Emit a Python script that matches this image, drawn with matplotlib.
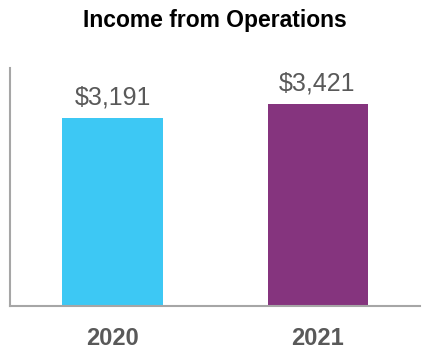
import matplotlib

matplotlib.use("Agg")

import matplotlib.pyplot as plt

years = ["2020", "2021"]
income = [3191, 3421]
value_labels = ["$3,191", "$3,421"]
bar_colors = ["#3DC8F4", "#85347E"]

TEXT_GRAY = "#595959"
SPINE_GRAY = "#A6A6A6"

plt.rcParams["font.family"] = ["Liberation Sans", "DejaVu Sans"]

fig = plt.figure(figsize=(4.3, 3.6), dpi=100)
ax = fig.add_axes([0.0233, 0.15, 0.9535, 0.661])

positions = list(range(len(years)))
bars = ax.bar(positions, income, width=0.488, color=bar_colors)

for bar, label in zip(bars, value_labels):
    ax.annotate(
        label,
        (bar.get_x() + bar.get_width() / 2, bar.get_height()),
        xytext=(0, 6),
        textcoords="offset points",
        ha="center",
        va="bottom",
        fontsize=18,
        color=TEXT_GRAY,
    )

ax.set_xlim(-0.5, 1.5)
ax.set_ylim(0, 4030)
ax.set_xticks(positions)
ax.set_xticklabels(years, fontsize=17, fontweight="bold", color=TEXT_GRAY)
ax.tick_params(axis="x", length=0, pad=15)
ax.set_yticks([])

for side in ("top", "right"):
    ax.spines[side].set_visible(False)
for side in ("left", "bottom"):
    ax.spines[side].set_color(SPINE_GRAY)
    ax.spines[side].set_linewidth(1.5)

fig.text(0.5, 1 - 21 / 360, "Income from Operations", ha="center", va="center",
         fontsize=16.5, fontweight="bold", color="black")

fig.savefig("out.png", dpi=100)
plt.close(fig)
